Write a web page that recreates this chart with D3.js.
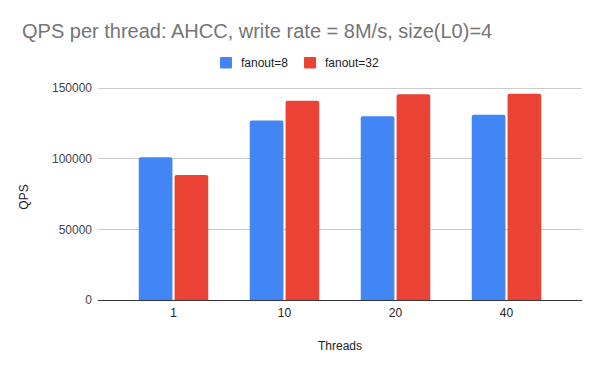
<!DOCTYPE html>
<html><head><meta charset="utf-8">
<script src="https://cdn.jsdelivr.net/npm/d3@7/dist/d3.min.js"></script>
<style>body{margin:0;background:#fff}svg{display:block;font-family:Arial,"Liberation Sans",sans-serif}</style>
</head><body><svg id="c" width="600" height="371"></svg>
<script>
const categories = ["1", "10", "20", "40"];
const seriesNames = ["fanout=8", "fanout=32"];
const fanout8 = [101000, 127000, 130000, 131000];
const fanout32 = [88500, 141000, 145500, 146000];
const yTicks = [0, 50000, 100000, 150000];
const colors = ["#4285f4", "#ea4335"];

const svg = d3.select("#c");
const W = 600, H = 371;
const plot = {left: 98, right: 582, top: 88, bottom: 300};

svg.append("rect").attr("width", W).attr("height", H).attr("fill", "#fff");

const y = d3.scaleLinear().domain([0, 150000]).range([plot.bottom, plot.top]);
const x = d3.scaleBand().domain(categories).range([plot.left + 20, plot.right - 20]).paddingInner(0).paddingOuter(0);
const groupW = 69.5;
const xs = d3.scaleBand().domain(seriesNames).range([0, groupW]).paddingInner(0.06);

// grid
svg.append("g").selectAll("line").data(yTicks.filter(d => d > 0)).join("line")
  .attr("x1", plot.left).attr("x2", plot.right)
  .attr("y1", d => y(d)).attr("y2", d => y(d))
  .attr("stroke", "#cccccc").attr("stroke-width", 1).attr("shape-rendering", "crispEdges");

// y tick labels
svg.append("g").selectAll("text").data(yTicks).join("text")
  .attr("x", 92).attr("y", d => y(d)).attr("dy", "0.35em")
  .attr("text-anchor", "end").attr("font-size", 12).attr("fill", "#444")
  .text(d => d);

// bars
const data = [fanout8, fanout32];
const rounded = (x0, y0, w, h, r) => {
  r = Math.min(r, h);
  return `M${x0},${y0 + h}V${y0 + r}Q${x0},${y0} ${x0 + r},${y0}H${x0 + w - r}Q${x0 + w},${y0} ${x0 + w},${y0 + r}V${y0 + h}Z`;
};
categories.forEach((c, i) => {
  const gx = x(c) + x.bandwidth() / 2 - groupW / 2;
  seriesNames.forEach((s, j) => {
    const v = data[j][i];
    svg.append("path")
      .attr("d", rounded(gx + xs(s), y(v), xs.bandwidth(), y(0) - y(v), 2))
      .attr("fill", colors[j]);
  });
});

// baseline
svg.append("line").attr("x1", plot.left).attr("x2", plot.right)
  .attr("y1", y(0) + 0.5).attr("y2", y(0) + 0.5).attr("stroke", "#333").attr("stroke-width", 1);

// x labels
svg.append("g").selectAll("text").data(categories).join("text")
  .attr("x", d => x(d) + x.bandwidth() / 2).attr("y", 317)
  .attr("text-anchor", "middle").attr("font-size", 12).attr("fill", "#222")
  .text(d => d);

// axis titles
svg.append("text").attr("x", 340).attr("y", 350).attr("text-anchor", "middle")
  .attr("font-size", 12).attr("fill", "#222").text("Threads");
svg.append("text").attr("transform", "translate(28,197) rotate(-90)").attr("text-anchor", "middle")
  .attr("font-size", 12).attr("fill", "#222").text("QPS");

// title
svg.append("text").attr("x", 22).attr("y", 38).attr("font-size", 20).attr("fill", "#757575")
  .text("QPS per thread: AHCC, write rate = 8M/s, size(L0)=4");

// legend
const leg = [{x: 220, tx: 241}, {x: 304, tx: 325}];
seriesNames.forEach((s, j) => {
  svg.append("rect").attr("x", leg[j].x).attr("y", 57).attr("width", 12).attr("height", 11.5)
    .attr("rx", 1).attr("fill", colors[j]);
  svg.append("text").attr("x", leg[j].tx).attr("y", 67)
    .attr("font-size", 12).attr("fill", "#222").text(s);
});
</script></body></html>
